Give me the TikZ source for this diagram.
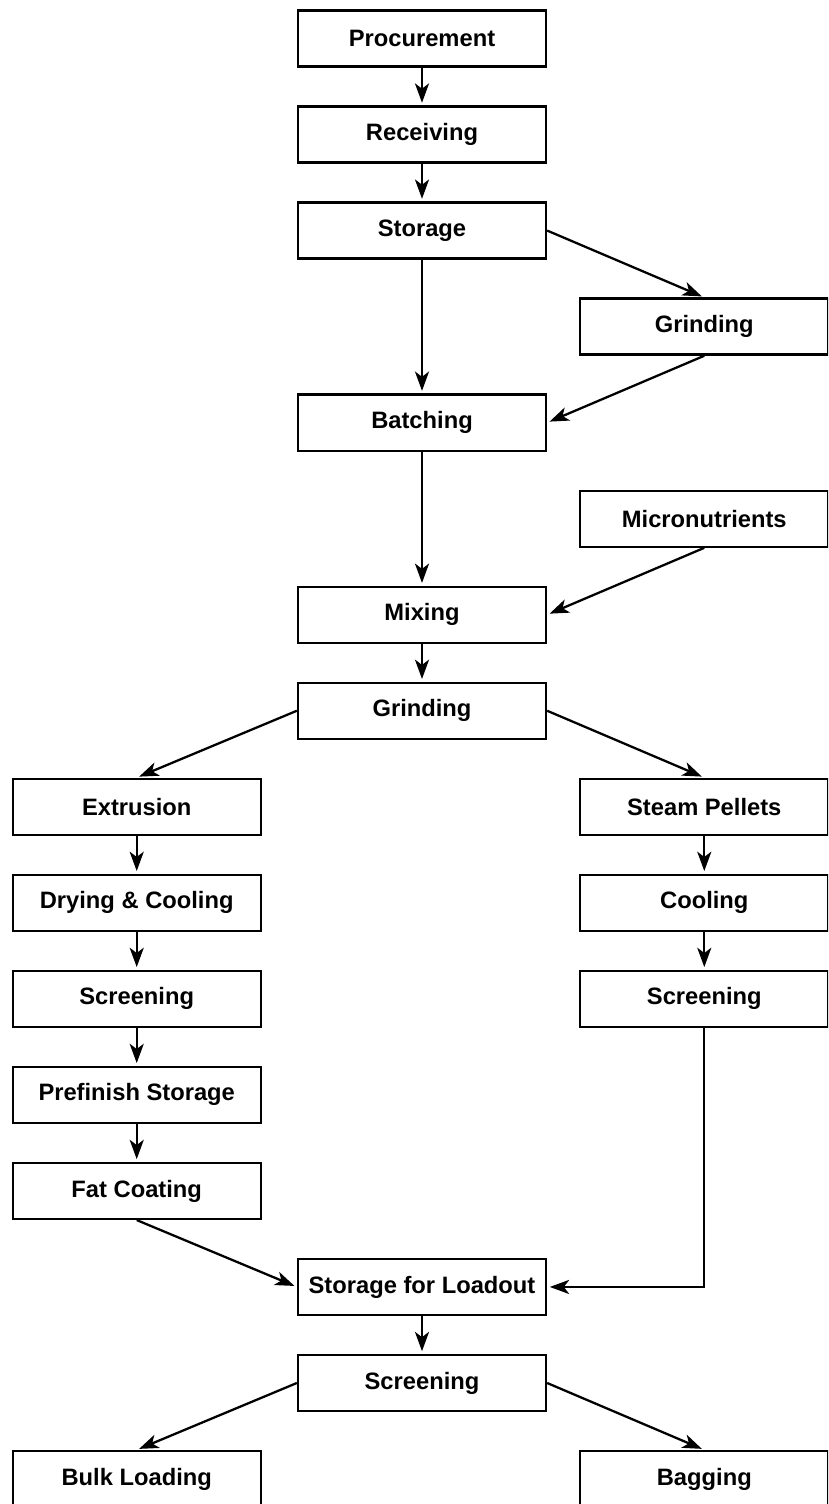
\documentclass[tikz,border=0pt]{standalone}
\usepackage{fontspec}
\setmainfont{Liberation Sans}
\usepackage{xcolor}
\usetikzlibrary{arrows.meta, positioning}
\tikzset{
  bloc/.style={rectangle, draw=black, fill=white, line width=1.3pt,
    font=\fontsize{13.5}{16}\selectfont\bfseries, minimum height=1.12cm,
    minimum width=4.96cm, align=center, inner sep=1mm},
  fleche/.style={-{Stealth[length=11pt, width=8pt, inset=3pt]}, line width=1.3pt,
    shorten >=1.5pt}
}

\begin{document}
\begin{tikzpicture}[node distance=0.755cm and 0.64cm]
    \useasboundingbox (0,0) rectangle (16.56,-30.08);
    \clip (0,0) rectangle (16.56,-30.08);
    % centre column
    \node[bloc] (procurement) at (8.44,-0.77) {Procurement};
    \node[bloc, below=of procurement] (receiving) {Receiving};
    \node[bloc, below=of receiving] (storage) {Storage};
    \node[bloc, below right=of storage] (grindA) {Grinding};
    \node[bloc, below left=of grindA] (batching) {Batching};
    \node[bloc, below right=of batching] (micro) {Micronutrients};
    \node[bloc, below left=of micro] (mixing) {Mixing};
    \node[bloc, below=of mixing] (grindB) {Grinding};

    % extrusion line
    \node[bloc, below left=0.755cm and 0.7cm of grindB] (extrusion) {Extrusion};
    \node[bloc, below=of extrusion] (drying) {Drying \& Cooling};
    \node[bloc, below=of drying] (screenA) {Screening};
    \node[bloc, below=of screenA] (prefinish) {Prefinish Storage};
    \node[bloc, below=of prefinish] (fatcoat) {Fat Coating};

    % pellet line
    \node[bloc, below right=of grindB] (steam) {Steam Pellets};
    \node[bloc, below=of steam] (cooling) {Cooling};
    \node[bloc, below=of cooling] (screenB) {Screening};

    % loadout
    \node[bloc, below right=0.755cm and 0.7cm of fatcoat] (loadout) {Storage for Loadout};
    \node[bloc, below=of loadout] (screenC) {Screening};
    \node[bloc, below left=0.755cm and 0.7cm of screenC] (bulk) {Bulk Loading};
    \node[bloc, below right=of screenC] (bagging) {Bagging};

    \draw[fleche] (procurement) -- (receiving);
    \draw[fleche] (receiving) -- (storage);
    \draw[fleche] (storage.east) -- (grindA.north);
    \draw[fleche] (storage) -- (batching);
    \draw[fleche] (grindA.south) -- (batching.east);
    \draw[fleche] (batching) -- (mixing);
    \draw[fleche] (micro.south) -- (mixing.east);
    \draw[fleche] (mixing) -- (grindB);
    \draw[fleche] (grindB.west) -- (extrusion.north);
    \draw[fleche] (grindB.east) -- (steam.north);
    \draw[fleche] (extrusion) -- (drying);
    \draw[fleche] (drying) -- (screenA);
    \draw[fleche] (screenA) -- (prefinish);
    \draw[fleche] (prefinish) -- (fatcoat);
    \draw[fleche] (steam) -- (cooling);
    \draw[fleche] (cooling) -- (screenB);
    \draw[fleche] (fatcoat.south) -- (loadout.west);
    \draw[fleche] (screenB.south) |- (loadout.east);
    \draw[fleche] (loadout) -- (screenC);
    \draw[fleche] (screenC.west) -- (bulk.north);
    \draw[fleche] (screenC.east) -- (bagging.north);
  \end{tikzpicture}
\end{document}
